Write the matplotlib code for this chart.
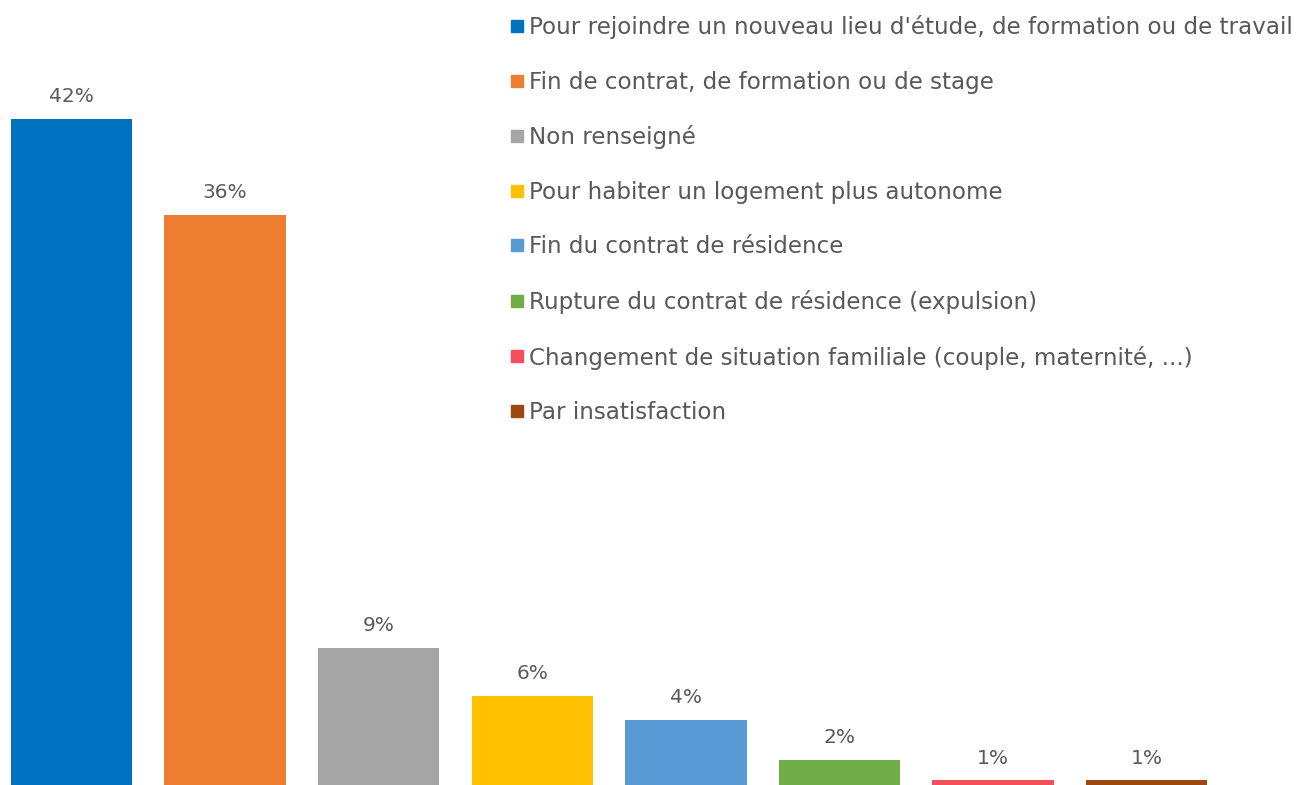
import matplotlib
matplotlib.use("Agg")
import matplotlib.pyplot as plt
from matplotlib.lines import Line2D

# Données du graphique
motifs = [
    "Pour rejoindre un nouveau lieu d'étude, de formation ou de travail",
    "Fin de contrat, de formation ou de stage",
    "Non renseigné",
    "Pour habiter un logement plus autonome",
    "Fin du contrat de résidence",
    "Rupture du contrat de résidence (expulsion)",
    "Changement de situation familiale (couple, maternité, ...)",
    "Par insatisfaction",
]
pourcentages = [42.0, 36.0, 8.9, 5.9, 4.4, 1.9, 0.6, 0.6]
couleurs = ["#0070C0", "#ED7D31", "#A5A5A5", "#FFC000",
            "#5B9BD5", "#70AD47", "#F4505A", "#9A4A0E"]

gris_texte = "#595959"

fig = plt.figure(figsize=(13.02, 7.85), dpi=100)
ax = fig.add_axes([0, 0, 1, 1])

x = list(range(len(pourcentages)))
barres = ax.bar(x, pourcentages, width=0.79, color=couleurs)

# Etiquettes de valeurs au-dessus des barres
for xi, v in zip(x, pourcentages):
    ax.annotate(f"{v:.0f}%", (xi, v), xytext=(0, 9), textcoords="offset points",
                ha="center", va="bottom", fontsize=14.5, color=gris_texte)

# Echelle : la base des barres est un peu sous le bord de l'image
ax.set_xlim(-0.4655, 8.011)
ax.set_ylim(0.31, 49.44)
ax.axis("off")

# Légende avec petits carrés
poignees = [Line2D([], [], marker="s", linestyle="", markersize=8.5,
                   markerfacecolor=c, markeredgecolor=c) for c in couleurs]
leg = fig.legend(poignees, motifs, loc="upper left",
                 bbox_to_anchor=(510 / 1302, 1 - 15 / 785),
                 frameon=False, fontsize=16.6, handlelength=0.6,
                 handletextpad=0.22, labelspacing=1.37, borderpad=0,
                 borderaxespad=0)
for t in leg.get_texts():
    t.set_color(gris_texte)

fig.savefig("out.png", dpi=100)
